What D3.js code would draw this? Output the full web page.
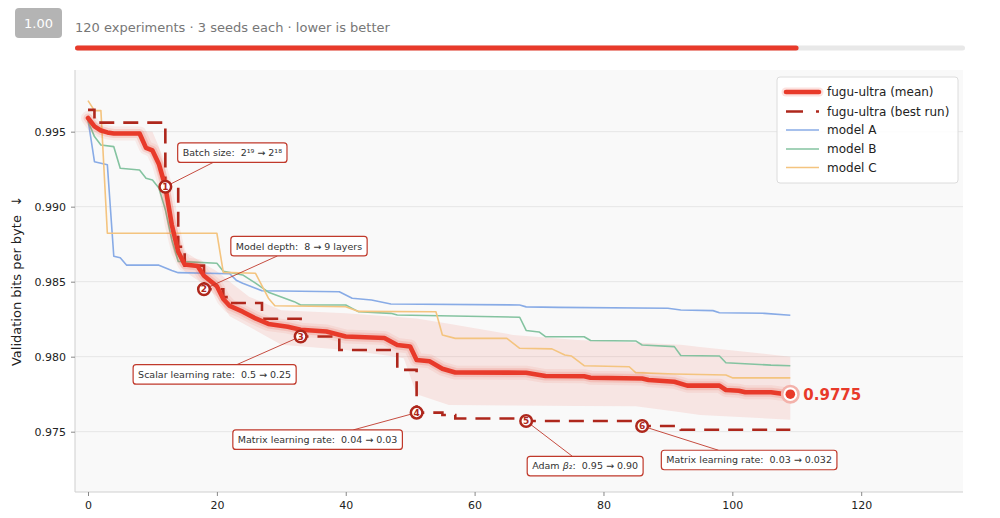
<!DOCTYPE html>
<html>
<head>
<meta charset="utf-8">
<script src="https://cdn.jsdelivr.net/npm/d3@7"></script>
<style>
  body { margin: 0; background: #fff; }
  text { font-family: "DejaVu Sans", sans-serif; }
</style>
</head>
<body>
<div id="chart"></div>
<script>
// data: [experiment, validation bpb]
var meanRun = [[0,0.99591],[1,0.99535],[2,0.99508],[3,0.99495],[4,0.99488],[8,0.99488],[9,0.99392],[10,0.99375],
  [11,0.99285],[12,0.99133],[13,0.98880],[14,0.98700],[15,0.98615],[17,0.98605],[18,0.98540],[19,0.98505],
  [20,0.98470],[21,0.98385],[22,0.98338],[24,0.98300],[26,0.98255],[28,0.98218],[31,0.98200],[33,0.98180],
  [37,0.98168],[40,0.98135],[46,0.98125],[48,0.98078],[50,0.98068],[51,0.97978],[53,0.97970],[55,0.97920],
  [57,0.97895],[68,0.97893],[71,0.97871],[77,0.97870],[78,0.97860],[86,0.97855],[87,0.97845],[91,0.97833],
  [93,0.97807],[98,0.97807],[99,0.97778],[101,0.97773],[102,0.97763],[106,0.97763],[108,0.97751],[109,0.97750]];

// spread across seeds
var bandX    = [0, 3, 8, 10, 11, 12, 13, 14, 15, 18, 20, 22, 25, 30, 40, 47, 49, 51, 56, 66, 76, 85, 92, 95, 109];
var bandHigh = [0.99600,0.99505,0.99505,0.99500,0.99400,0.99250,0.99050,0.98820,0.98700,0.98620,0.98570,0.98500,
  0.98400,0.98310,0.98290,0.98268,0.98262,0.98255,0.98220,0.98145,0.98112,0.98095,0.98079,0.98065,0.98000];
var bandLow  = [0.99582,0.99480,0.99470,0.99330,0.99200,0.99000,0.98740,0.98620,0.98570,0.98480,0.98400,0.98270,
  0.98200,0.98080,0.98045,0.98005,0.97990,0.97750,0.97678,0.97675,0.97672,0.97670,0.97630,0.97611,0.97580];

var bestRun = [[0,0.99645],[1,0.99560],[12,0.99133],[14,0.98733],[15,0.98607],[18,0.98450],[21,0.98397],
  [22,0.98358],[27,0.98253],[33,0.98135],[39,0.98045],[48,0.97912],[51,0.97627],[55,0.97611],[57,0.97588],
  [68,0.97571],[86,0.97538],[92,0.97513],[109,0.97513]];

var modelA = [[0,0.99580],[1,0.99300],[3,0.99280],[4,0.98670],[5,0.98660],[6,0.98610],[11,0.98610],[13,0.98575],
  [14,0.98560],[22,0.98553],[23,0.98510],[24,0.98489],[26,0.98456],[27,0.98440],[39,0.98433],[41,0.98389],
  [44,0.98378],[47,0.98351],[67,0.98345],[68,0.98332],[73,0.98329],[90,0.98323],[92,0.98311],[97,0.98307],
  [98,0.98293],[105,0.98289],[109,0.98276]];

var modelB = [[0,0.99570],[1,0.99467],[2,0.99411],[4,0.99400],[5,0.99256],[8,0.99244],[9,0.99189],[10,0.99178],
  [11,0.99125],[12,0.98980],[13,0.98780],[14,0.98635],[20,0.98623],[21,0.98570],[24,0.98545],[26,0.98490],
  [28,0.98430],[32,0.98367],[33,0.98345],[40,0.98345],[41,0.98322],[42,0.98300],[47,0.98289],[48,0.98278],
  [67,0.98263],[68,0.98175],[70,0.98165],[71,0.98133],[77,0.98133],[78,0.98108],[85,0.98105],[86,0.98078],
  [91,0.98067],[92,0.98008],[98,0.98005],[99,0.97960],[106,0.97944],[109,0.97940]];

var modelC = [[0,0.99707],[1,0.99640],[2,0.99640],[3,0.98823],[20,0.98823],[21,0.98562],[26,0.98556],[28,0.98390],
  [29,0.98340],[40,0.98333],[42,0.98302],[54,0.98300],[55,0.98145],[57,0.98122],[65,0.98122],[67,0.98056],
  [72,0.98052],[74,0.98011],[75,0.98005],[77,0.97940],[84,0.97933],[85,0.97894],[91,0.97885],[99,0.97878],
  [100,0.97859],[109,0.97859]];

var changeSteps  = [12, 18, 33, 51, 68, 86];
var changeLabels = ["Batch size:  2¹⁹ → 2¹⁸", "Model depth:  8 → 9 layers", "Scalar learning rate:  0.5 → 0.25",
  "Matrix learning rate:  0.04 → 0.03", "Adam β₂:  0.95 → 0.90", "Matrix learning rate:  0.03 → 0.032"];

var legendNames = ["fugu-ultra (mean)", "fugu-ultra (best run)", "model A", "model B", "model C"];
var xTicks = [0, 20, 40, 60, 80, 100, 120];
var yTicks = [0.975, 0.980, 0.985, 0.990, 0.995];
var badgeText = "1.00";
var subtitle = "120 experiments · 3 seeds each · lower is better";
var progress = 0.813;

// layout
var W = 1000, H = 518;
var plot = {left: 75, right: 963, top: 70, bottom: 492};
var noteOffsets = [[67,-34],[95,-43],[-86,38],[-99,27],[59,45],[107,34]];  // box centre relative to marker
var RED = "#e83a2a", DARK = "#ae271c", BOX = "#c0392b";
var colA = "#88abe6", colB = "#84c3a0", colC = "#f4c47f";

var svg = d3.select("#chart").append("svg").attr("width", W).attr("height", H);

// header
svg.append("rect").attr("x", 15).attr("y", 8).attr("width", 47).attr("height", 30).attr("rx", 4).attr("fill", "#b4b4b4");
svg.append("text").attr("x", 38.5).attr("y", 28).attr("text-anchor", "middle")
  .attr("fill", "#fff").style("font-size", "13px").text(badgeText);
svg.append("text").attr("x", 75).attr("y", 31.5).attr("fill", "#777")
  .style("font-size", "13px").text(subtitle);
svg.append("rect").attr("x", 75).attr("y", 45.5).attr("width", 890).attr("height", 5).attr("rx", 2.5).attr("fill", "#e8e8e8");
svg.append("rect").attr("x", 75).attr("y", 45.5).attr("width", 890 * progress).attr("height", 5).attr("rx", 2.5).attr("fill", RED);

// scales
var x = d3.scaleLinear().domain([-2.02, 135.8]).range([plot.left, plot.right]);
var y = d3.scaleLinear().domain([0.97098, 0.99911]).range([plot.bottom, plot.top]);

svg.append("rect").attr("x", plot.left).attr("y", plot.top)
  .attr("width", plot.right - plot.left).attr("height", plot.bottom - plot.top).attr("fill", "#f9f9f9");

// grid
svg.append("g").selectAll("line").data(yTicks).enter().append("line")
  .attr("x1", plot.left).attr("x2", plot.right)
  .attr("y1", function(d) { return y(d); }).attr("y2", function(d) { return y(d); })
  .attr("stroke", "#e6e6e6").attr("stroke-width", 1);

// axes
var gx = svg.append("g").attr("transform", "translate(0," + plot.bottom + ")")
  .call(d3.axisBottom(x).tickValues(xTicks).tickSize(4).tickPadding(5.5).tickFormat(d3.format("d")));
var gy = svg.append("g").attr("transform", "translate(" + plot.left + ",0)")
  .call(d3.axisLeft(y).tickValues(yTicks).tickSize(4).tickPadding(5).tickFormat(d3.format(".3f")));
[gx, gy].forEach(function(g) {
  g.select(".domain").attr("stroke", "#cfcfcf");
  g.selectAll(".tick line").attr("stroke", "#888");
  g.selectAll(".tick text").attr("fill", "#222").style("font-size", "11px").style("font-family", "DejaVu Sans");
});
gy.select(".domain").attr("d", "M0," + plot.top + "V" + plot.bottom);
gx.select(".domain").attr("d", "M" + plot.left + ",0H" + plot.right);

svg.append("text").attr("transform", "translate(21," + ((plot.top + plot.bottom) / 2) + ") rotate(-90)")
  .attr("text-anchor", "middle").attr("fill", "#222").style("font-size", "13px")
  .style("white-space", "pre").text("Validation bits per byte  ↓");

// band
var band = bandX.map(function(v, i) { return [v, bandLow[i], bandHigh[i]]; });
svg.append("path").datum(band)
  .attr("d", d3.area().x(function(d) { return x(d[0]); }).y0(function(d) { return y(d[1]); }).y1(function(d) { return y(d[2]); }))
  .attr("fill", RED).attr("fill-opacity", 0.1);

var line = d3.line().x(function(d) { return x(d[0]); }).y(function(d) { return y(d[1]); });

// other models
[[modelA, colA], [modelB, colB], [modelC, colC]].forEach(function(m) {
  svg.append("path").datum(m[0]).attr("d", line).attr("fill", "none")
    .attr("stroke", m[1]).attr("stroke-width", 1.6).attr("stroke-linejoin", "round");
});

// best run
svg.append("path").datum(bestRun).attr("d", line.curve(d3.curveStepAfter)).attr("fill", "none")
  .attr("stroke", DARK).attr("stroke-width", 2.6).attr("stroke-dasharray", "15,9");
line.curve(d3.curveLinear);

// mean with glow
[[14, 0.08], [9, 0.15], [4.6, 1]].forEach(function(s) {
  svg.append("path").datum(meanRun).attr("d", line).attr("fill", "none")
    .attr("stroke", RED).attr("stroke-width", s[0]).attr("stroke-opacity", s[1])
    .attr("stroke-linejoin", "round").attr("stroke-linecap", "round");
});

// annotations
function bestAt(step) {
  var v = bestRun[0][1];
  bestRun.forEach(function(p) { if (p[0] <= step) v = p[1]; });
  return v;
}
var notes = changeSteps.map(function(s, i) {
  return {n: i + 1, mx: x(s), my: y(bestAt(s)), label: changeLabels[i],
          cx: x(s) + noteOffsets[i][0], cy: y(bestAt(s)) + noteOffsets[i][1]};
});
var gLinks = svg.append("g"), gBoxes = svg.append("g"), gMarks = svg.append("g");
notes.forEach(function(d) {
  var box = gBoxes.append("g");
  var rect = box.append("rect");
  var t = box.append("text").attr("x", d.cx).attr("y", d.cy + 3.4).attr("text-anchor", "middle")
    .attr("fill", "#333").style("font-size", "9.5px").style("white-space", "pre");
  d.label.split(/(β)/).forEach(function(part) {
    if (!part) return;
    var ts = t.append("tspan").text(part);
    if (part === "β") ts.style("font-style", "italic");
  });
  var w = t.node().getComputedTextLength() + 10, h = 19.5;
  rect.attr("x", d.cx - w / 2).attr("y", d.cy - h / 2).attr("width", w).attr("height", h).attr("rx", 3)
    .attr("fill", "#fff").attr("stroke", BOX).attr("stroke-width", 1.2);
  var dx = d.mx - d.cx, dy = d.my - d.cy, len = Math.sqrt(dx * dx + dy * dy);
  var k = Math.min((w / 2) / Math.abs(dx), (h / 2) / Math.abs(dy));
  gLinks.append("line").attr("x1", d.cx + dx * k).attr("y1", d.cy + dy * k)
    .attr("x2", d.mx - dx / len * 6).attr("y2", d.my - dy / len * 6)
    .attr("stroke", BOX).attr("stroke-width", 0.9);
  gMarks.append("circle").attr("cx", d.mx).attr("cy", d.my).attr("r", 5.8)
    .attr("fill", "#fff").attr("stroke", DARK).attr("stroke-width", 2.5);
  gMarks.append("text").attr("x", d.mx).attr("y", d.my + 3.2).attr("text-anchor", "middle")
    .attr("fill", DARK).style("font-size", "9px").style("font-weight", "bold").text(d.n);
});

// final value
var last = meanRun[meanRun.length - 1];
svg.append("circle").attr("cx", x(last[0])).attr("cy", y(last[1])).attr("r", 8.2)
  .attr("fill", "#fff").attr("stroke", "#f3b2ab").attr("stroke-width", 2.6);
svg.append("circle").attr("cx", x(last[0])).attr("cy", y(last[1])).attr("r", 4.8).attr("fill", RED);
svg.append("text").attr("x", x(last[0]) + 13).attr("y", y(last[1]) + 5.5).attr("fill", RED)
  .style("font-size", "15px").style("font-weight", "bold").text(d3.format(".4f")(last[1]));

// legend
var lg = svg.append("g").attr("transform", "translate(777,77)");
lg.append("rect").attr("width", 181).attr("height", 106).attr("rx", 3)
  .attr("fill", "#fff").attr("fill-opacity", 0.9).attr("stroke", "#dcdcdc");
var rows = [15, 34.5, 53, 72, 90.5];
legendNames.forEach(function(name, i) {
  var yy = rows[i];
  if (i === 0) {
    lg.append("line").attr("x1", 9).attr("x2", 42).attr("y1", yy).attr("y2", yy)
      .attr("stroke", RED).attr("stroke-width", 9).attr("stroke-opacity", 0.15).attr("stroke-linecap", "round");
    lg.append("line").attr("x1", 9).attr("x2", 42).attr("y1", yy).attr("y2", yy)
      .attr("stroke", RED).attr("stroke-width", 4.6).attr("stroke-linecap", "round");
  } else if (i === 1) {
    lg.append("line").attr("x1", 9).attr("x2", 42).attr("y1", yy).attr("y2", yy)
      .attr("stroke", DARK).attr("stroke-width", 2.6).attr("stroke-dasharray", "17,13");
  } else {
    lg.append("line").attr("x1", 9).attr("x2", 42).attr("y1", yy).attr("y2", yy)
      .attr("stroke", [colA, colB, colC][i - 2]).attr("stroke-width", 1.6);
  }
  lg.append("text").attr("x", 50).attr("y", yy + 4.3).attr("fill", "#222")
    .style("font-size", "12px").text(name);
});
</script>
</body>
</html>
